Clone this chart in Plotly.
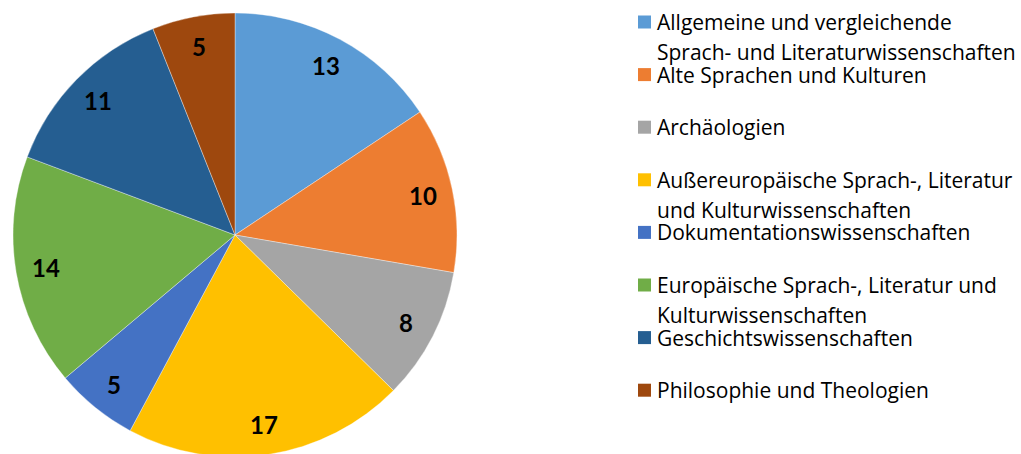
import math
import plotly.graph_objects as go

# ---- data ----
categories = [
    "Allgemeine und vergleichende\nSprach- und Literaturwissenschaften",
    "Alte Sprachen und Kulturen",
    "Archäologien",
    "Außereuropäische Sprach-, Literatur\nund Kulturwissenschaften",
    "Dokumentationswissenschaften",
    "Europäische Sprach-, Literatur und\nKulturwissenschaften",
    "Geschichtswissenschaften",
    "Philosophie und Theologien",
]
values = [13, 10, 8, 17, 5, 14, 11, 5]
colors = ["#5B9BD5", "#ED7D31", "#A5A5A5", "#FFC000",
          "#4472C4", "#70AD47", "#255E91", "#9E480E"]

# figure is slightly taller than the window so the pie bottom is cut like the reference
W, H = 1021, 460
CX, CY, R = 235, 235, 222  # pie centre (px from top-left) and radius

dom_x = [(CX - R) / W, (CX + R) / W]
dom_y = [(H - CY - R) / H, (H - CY + R) / H]

fig = go.Figure()
fig.add_trace(go.Pie(
    labels=[c.replace("\n", " ") for c in categories],
    values=values,
    sort=False,
    direction="clockwise",
    rotation=0,
    marker=dict(colors=colors, line=dict(color="rgba(255,255,255,0.6)", width=0.6)),
    textinfo="none",
    hoverinfo="label+value",
    showlegend=False,
    domain=dict(x=dom_x, y=dom_y),
))

annotations = []
shapes = []

# data labels, positioned from the slice angles
total = sum(values)
cum = 0
for v in values:
    mid = (cum + v / 2) / total * 2 * math.pi
    cum += v
    rl = 0.865 * R
    px = CX + rl * math.sin(mid)
    py = CY - rl * math.cos(mid)
    annotations.append(dict(
        x=px / W, y=1 - py / H, xref="paper", yref="paper",
        text=f"<b>{v}</b>", showarrow=False,
        xanchor="center", yanchor="middle",
        font=dict(family="Lato", size=24, color="#000000"),
    ))

# legend
LEG_X_BOX = 638
LEG_X_TXT = 655
LEG_Y0 = 22
LEG_STEP = 52.6
LINE_STEP = 30
for i, (cat, col) in enumerate(zip(categories, colors)):
    yc = LEG_Y0 + i * LEG_STEP
    shapes.append(dict(
        type="rect", xref="paper", yref="paper",
        x0=LEG_X_BOX / W, x1=(LEG_X_BOX + 13) / W,
        y0=1 - (yc + 6.5) / H, y1=1 - (yc - 6.5) / H,
        fillcolor=col, line=dict(width=0),
    ))
    for j, line in enumerate(cat.split("\n")):
        annotations.append(dict(
            x=LEG_X_TXT / W, y=1 - (yc + j * LINE_STEP) / H,
            xref="paper", yref="paper",
            text=line, showarrow=False,
            xanchor="left", yanchor="middle",
            font=dict(family="Open Sans", size=21, color="#000000"),
        ))

fig.update_layout(
    width=W, height=H,
    margin=dict(l=0, r=0, t=0, b=0),
    paper_bgcolor="white",
    plot_bgcolor="white",
    annotations=annotations,
    shapes=shapes,
)

fig.write_html(
    "out.html",
    config={"displayModeBar": False},
    post_script="document.body.style.margin='0';document.body.style.overflow='hidden';",
)
